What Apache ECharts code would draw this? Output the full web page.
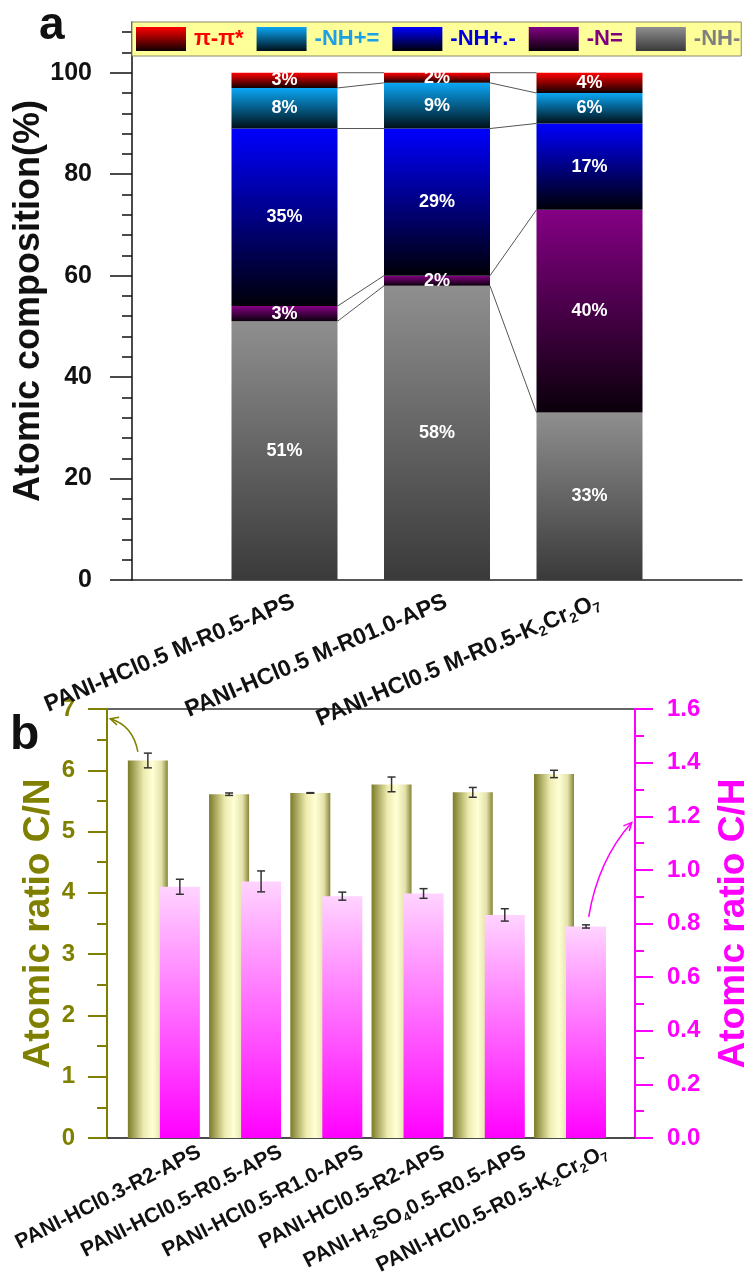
<!DOCTYPE html>
<html><head><meta charset="utf-8">
<script src="https://cdn.jsdelivr.net/npm/echarts@6/dist/echarts.min.js"></script>
<style>html,body{margin:0;padding:0;background:#fff}#c{width:747px;height:1280px}</style>
</head><body><div id="c"></div>
<script>
// ---------- Panel a data ----------
const samplesA = ['PANI-HCl0.5 M-R0.5-APS', 'PANI-HCl0.5 M-R01.0-APS', 'PANI-HCl0.5 M-R0.5-K₂Cr₂O₇'];
const nhA     = [51, 58, 33];   // -NH-
const nEqA    = [3, 2, 40];     // -N=
const nhRadA  = [35, 29, 17];   // -NH+.-
const nhPlusA = [8, 9, 6];      // -NH+=
const piA     = [3, 2, 4];      // π-π*
const yTicksA = [0, 20, 40, 60, 80, 100];
const yMinorTicksA = [4, 8, 12, 16, 24, 28, 32, 36, 44, 48, 52, 56, 64, 68, 72, 76, 84, 88, 92, 96, 104, 108];

// ---------- Panel b data ----------
const samplesB = ['PANI-HCl0.3-R2-APS', 'PANI-HCl0.5-R0.5-APS', 'PANI-HCl0.5-R1.0-APS', 'PANI-HCl0.5-R2-APS', 'PANI-H₂SO₄0.5-R0.5-APS', 'PANI-HCl0.5-R0.5-K₂Cr₂O₇'];
const cnRatio = [6.16, 5.61, 5.63, 5.77, 5.64, 5.94];
const cnErr   = [0.12, 0.02, 0.005, 0.12, 0.08, 0.06];
const chRatio = [0.937, 0.957, 0.902, 0.912, 0.832, 0.789];
const chErr   = [0.028, 0.039, 0.015, 0.018, 0.023, 0.006];
// annotation arrows: [start, control, end] in (sample position, ratio) coordinates
const arrowCN = [[0.68, 6.30], [0.62, 6.73], [0.34, 6.84]];
const arrowCH = [[6.23, 0.825], [6.345, 1.037], [6.76, 1.177]];

// ---------- helpers ----------
const FONT = '"Liberation Sans", Arial, sans-serif';
const SUBS = '₀₁₂₃₄₅₆₇₈₉';
function richSub(s) { return s.replace(/[₀-₉]/g, c => '{s|' + SUBS.indexOf(c) + '}'); }
function vgrad(top, bottom) {
  return new echarts.graphic.LinearGradient(0, 0, 0, 1, [{offset: 0, color: top}, {offset: 1, color: bottom}]);
}
const pad = arr => [null].concat(arr, [null]);
const BAR_W_A = 106;
const LABEL_SHIFT_A = 0.06;
const BAR_W_B = 40, BAR_GAP_B = -0.2;
const BAR_OFF_B = BAR_W_B * (1 + BAR_GAP_B) / 2;
const LABEL_SHIFT_B = 0.44;

const layersA = [
  {name: '-NH-',   data: nhA,     color: vgrad('#8f8f8f', '#3a3a3a'), text: '#808080'},
  {name: '-N=',    data: nEqA,    color: vgrad('#850085', '#0a000a'), text: '#800080'},
  {name: '-NH+.-', data: nhRadA,  color: vgrad('#0000ff', '#000008'), text: '#0000e0'},
  {name: '-NH+=',  data: nhPlusA, color: vgrad('#0aa6f5', '#001018'), text: '#1ea0e6'},
  {name: 'π-π*',   data: piA,     color: vgrad('#ff0000', '#100000'), text: '#ff0000'}
];

const chart = echarts.init(document.getElementById('c'), null, {renderer: 'canvas'});

const series = [];
layersA.forEach(L => {
  series.push({
    name: L.name, type: 'bar', stack: 'a', xAxisIndex: 0, yAxisIndex: 0,
    barWidth: BAR_W_A, data: pad(L.data),
    itemStyle: {color: L.color},
    label: {show: true, position: 'inside', formatter: p => p.value + '%', color: '#fff',
            fontFamily: FONT, fontWeight: 'bold', fontSize: 18},
    emphasis: {disabled: true}
  });
});
// connector lines between adjacent stacked bars
series.push({
  type: 'custom', xAxisIndex: 0, yAxisIndex: 0, silent: true, z: 1,
  data: [[1, 0], [2, 0]], encode: {x: 0, y: 1},
  renderItem: (params, api) => {
    const i = api.value(0);
    const k = i - 1;
    let cl = 0, cr = 0;
    const children = [];
    layersA.forEach(L => {
      cl += L.data[k]; cr += L.data[k + 1];
      const p1 = api.coord([i, cl]), p2 = api.coord([i + 1, cr]);
      children.push({type: 'line', shape: {x1: p1[0] + BAR_W_A / 2, y1: p1[1], x2: p2[0] - BAR_W_A / 2, y2: p2[1]},
                     style: {stroke: '#555', lineWidth: 1}});
    });
    return {type: 'group', children};
  }
});

// panel b bars
series.push({
  name: 'C/N', type: 'bar', xAxisIndex: 2, yAxisIndex: 2, barWidth: BAR_W_B, barGap: (BAR_GAP_B * 100) + '%',
  data: cnRatio.map((v, i) => [i + 1, v]),
  itemStyle: {color: new echarts.graphic.LinearGradient(0, 0, 1, 0, [
    {offset: 0, color: '#7b7b28'}, {offset: 0.4, color: '#eeecb0'}, {offset: 0.62, color: '#ffffd6'},
    {offset: 0.84, color: '#e4e2aa'}, {offset: 1, color: '#85853a'}])},
  emphasis: {disabled: true}
});
series.push({
  name: 'C/H', type: 'bar', xAxisIndex: 2, yAxisIndex: 3, barWidth: BAR_W_B, barGap: (BAR_GAP_B * 100) + '%',
  data: chRatio.map((v, i) => [i + 1, v]),
  itemStyle: {color: vgrad('#ffd4ff', '#ff00ff')},
  emphasis: {disabled: true}
});
function errSeries(vals, errs, yIdx, off) {
  return {
    type: 'custom', xAxisIndex: 2, yAxisIndex: yIdx, silent: true, z: 5,
    data: vals.map((v, i) => [i + 1, v - errs[i], v + errs[i]]), encode: {x: 0, y: [1, 2]},
    renderItem: (params, api) => {
      const a = api.coord([api.value(0), api.value(2)]);
      const b = api.coord([api.value(0), api.value(1)]);
      const cx = a[0] + off, w = 4;
      const st = {stroke: '#333', lineWidth: 1.5};
      return {type: 'group', children: [
        {type: 'line', shape: {x1: cx, y1: a[1], x2: cx, y2: b[1]}, style: st},
        {type: 'line', shape: {x1: cx - w, y1: a[1], x2: cx + w, y2: a[1]}, style: st},
        {type: 'line', shape: {x1: cx - w, y1: b[1], x2: cx + w, y2: b[1]}, style: st}
      ]};
    }
  };
}
series.push(errSeries(cnRatio, cnErr, 2, -BAR_OFF_B));
series.push(errSeries(chRatio, chErr, 3, BAR_OFF_B));
function arrowSeries(pts, yIdx, color) {
  return {
    type: 'custom', xAxisIndex: 2, yAxisIndex: yIdx, silent: true, z: 6,
    data: [pts[0]], encode: {x: 0, y: 1},
    renderItem: (params, api) => {
      const p0 = api.coord(pts[0]), c = api.coord(pts[1]), p2 = api.coord(pts[2]);
      const ang = Math.atan2(p2[1] - c[1], p2[0] - c[0]);
      const L = 9, s = 0.45;
      const h1 = [p2[0] - L * Math.cos(ang - s), p2[1] - L * Math.sin(ang - s)];
      const h2 = [p2[0] - L * Math.cos(ang + s), p2[1] - L * Math.sin(ang + s)];
      const st = {stroke: color, lineWidth: 1.5, fill: null};
      return {type: 'group', children: [
        {type: 'bezierCurve', shape: {x1: p0[0], y1: p0[1], cpx1: c[0], cpy1: c[1], x2: p2[0], y2: p2[1]}, style: st},
        {type: 'polyline', shape: {points: [h1, p2, h2]}, style: st}
      ]};
    }
  };
}
series.push(arrowSeries(arrowCN, 2, '#808000'));
series.push(arrowSeries(arrowCH, 3, '#ff00ff'));

const subRich = (color, size) => ({s: {fontSize: size, fontWeight: 'bold', fontFamily: FONT, color, verticalAlign: 'bottom', lineHeight: size}});

const option = {
  animation: false,
  backgroundColor: '#fff',
  textStyle: {fontFamily: FONT},
  title: [
    {text: 'a', left: 39, top: 3, padding: 0, textStyle: {fontSize: 46, fontWeight: 'bold', color: '#111', fontFamily: FONT}},
    {text: 'b', left: 10, top: 712, padding: 0, textStyle: {fontSize: 48, fontWeight: 'bold', color: '#111', fontFamily: FONT}}
  ],
  legend: {
    left: 132, top: 22, width: 740, orient: 'horizontal',
    padding: [5, 1, 5, 4], itemGap: 13, itemWidth: 50, itemHeight: 24, icon: 'rect',
    backgroundColor: '#ffff99', borderColor: '#8a8a6a', borderWidth: 1,
    selectedMode: false,
    textStyle: {fontSize: 22, fontWeight: 'bold', fontFamily: FONT, padding: [0, 0, 0, 3]},
    data: layersA.slice().reverse().map(L => ({name: L.name, textStyle: {color: L.text}}))
  },
  grid: [
    {left: 132, right: 5, top: 22, bottom: 700, outerBoundsMode: 'none'},
    {left: 107, right: 112, top: 709, bottom: 142, outerBoundsMode: 'none',
     show: true, borderColor: '#333', borderWidth: 1.5, backgroundColor: 'transparent'}
  ],
  xAxis: [
    {
      gridIndex: 0, type: 'category', data: pad(samplesA).map(s => s || ''), boundaryGap: false,
      axisLine: {lineStyle: {color: '#222', width: 1.5}}, axisTick: {show: false}, splitLine: {show: false},
      axisLabel: {show: false}
    },
    {
      gridIndex: 0, type: 'value', min: 0, max: samplesA.length + 1, position: 'bottom',
      axisLine: {show: false}, axisTick: {show: false}, splitLine: {show: false},
      axisLabel: {customValues: samplesA.map((s, i) => i + 1 + LABEL_SHIFT_A), rotate: 23, margin: 21,
                  fontSize: 23, fontWeight: 'bold', color: '#111', lineHeight: 27, fontFamily: FONT,
                  formatter: v => richSub(samplesA[Math.round(v - LABEL_SHIFT_A) - 1] || ''), rich: subRich('#111', 14)}
    },
    {
      gridIndex: 1, type: 'value', min: 0.3, max: 6.8,
      axisLine: {lineStyle: {color: '#444', width: 1.5}}, axisTick: {show: false}, splitLine: {show: false},
      axisLabel: {customValues: samplesB.map((s, i) => i + 1 + LABEL_SHIFT_B), rotate: 27, margin: 13,
                  fontSize: 21, fontWeight: 'bold', color: '#111', lineHeight: 25, fontFamily: FONT,
                  formatter: v => richSub(samplesB[Math.round(v - LABEL_SHIFT_B) - 1] || ''), rich: subRich('#111', 13)}
    }
  ],
  yAxis: [
    {
      gridIndex: 0, type: 'value', min: 0, max: 110, interval: 20, position: 'left',
      axisLine: {show: true, lineStyle: {color: '#111', width: 1.5}},
      axisTick: {show: true, length: 22, customValues: yTicksA, lineStyle: {color: '#111', width: 1.5}},
      axisLabel: {customValues: yTicksA, margin: 40, fontSize: 25, fontWeight: 'bold', color: '#111', fontFamily: FONT},
      splitLine: {show: false},
      name: 'Atomic composition(%)', nameLocation: 'middle', nameRotate: 90, nameGap: 85, nameMoveOverlap: false,
      nameTextStyle: {fontSize: 36, fontWeight: 'bold', color: '#111', fontFamily: FONT}
    },
    {
      gridIndex: 0, type: 'value', min: 0, max: 110, position: 'left',
      axisLine: {show: false}, axisLabel: {show: false}, splitLine: {show: false},
      axisTick: {show: true, length: 10, customValues: yMinorTicksA, lineStyle: {color: '#111', width: 1.5}}
    },
    {
      gridIndex: 1, type: 'value', min: 0, max: 7, interval: 1, position: 'left',
      axisLine: {show: true, lineStyle: {color: '#808000', width: 2}},
      axisTick: {show: true, length: 19, lineStyle: {color: '#808000', width: 2}},
      minorTick: {show: true, splitNumber: 2, length: 10, lineStyle: {color: '#808000', width: 2}},
      axisLabel: {margin: 32, fontSize: 24, fontWeight: 'bold', color: '#808000', fontFamily: FONT},
      splitLine: {show: false}, minorSplitLine: {show: false},
      name: 'Atomic ratio C/N', nameLocation: 'middle', nameRotate: 90, nameGap: 50, nameMoveOverlap: false,
      nameTextStyle: {fontSize: 37, fontWeight: 'bold', color: '#808000', fontFamily: FONT}
    },
    {
      gridIndex: 1, type: 'value', min: 0, max: 1.6, interval: 0.2, position: 'right',
      axisLine: {show: true, lineStyle: {color: '#ff00ff', width: 2}},
      axisTick: {show: true, length: 18, lineStyle: {color: '#ff00ff', width: 2}},
      minorTick: {show: true, splitNumber: 2, length: 9, lineStyle: {color: '#ff00ff', width: 2}},
      axisLabel: {margin: 32, fontSize: 24, fontWeight: 'bold', color: '#ff00ff', fontFamily: FONT,
                  formatter: v => v.toFixed(1)},
      splitLine: {show: false}, minorSplitLine: {show: false},
      name: 'Atomic ratio C/H', nameLocation: 'middle', nameRotate: 90, nameGap: 80, nameMoveOverlap: false,
      nameTextStyle: {fontSize: 37, fontWeight: 'bold', color: '#ff00ff', fontFamily: FONT}
    }
  ],
  series
};
chart.setOption(option);
</script>
</body></html>
